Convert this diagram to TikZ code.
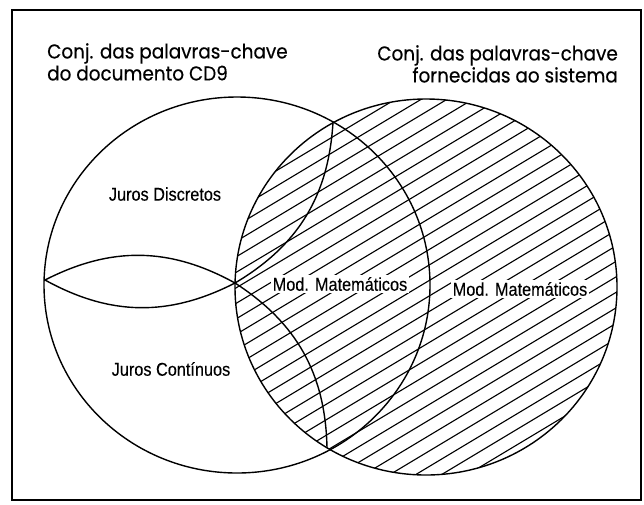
\documentclass[tikz,border=0pt]{standalone}
\usepackage{fontspec}
\setmainfont{Poppins}[FakeStretch=0.92,FakeBold=0.4]
\newfontfamily\labelfont{Liberation Sans}[FakeStretch=0.88,FakeBold=0.3]
\usepackage{tikz}

\begin{document}
\begin{tikzpicture}[x=1pt,y=-1pt,
		hatch/.style={line width=1.1pt},
		setline/.style={line width=1.4pt},
		title/.style={inner sep=0pt,font=\fontsize{20}{22}\selectfont},
		region/.style={inner sep=2pt,font=\labelfont\fontsize{18.5}{20}\selectfont}]
				\useasboundingbox (0,0) rectangle (644,504);
				\draw[line width=1.8pt] (12,10) rectangle (641,500);
				\coordinate (lensL) at (45,280);
				\coordinate (lensR) at (235,283);
				\coordinate (cutT) at (333,122);
				\coordinate (cutB) at (327,448);
				\begin{scope}
					\clip (426,287) ellipse [x radius=191, y radius=188];
					\foreach \k in {-8,...,24}
						\draw[hatch] (200,{294+15.5*\k}) -- +(450,-270);
				\end{scope}
				\draw[setline] (237,285) ellipse [x radius=193, y radius=188];
				\draw[setline] (426,287) ellipse [x radius=191, y radius=188];
				\draw[setline] (lensL) to[bend left=28] (lensR);
				\draw[setline] (lensL) to[bend right=28] (lensR);
				\draw[setline] (lensR) to[bend right=28] (cutT);
				\draw[setline] (lensR) to[bend left=28] (cutB);
				\node[title,anchor=north west,align=left] (docset) at (47,43) {Conj. das palavras-chave\\do documento CD9};
				\node[title,anchor=north east,align=right] (sysset) at (618,45) {Conj. das palavras-chave\\fornecidas ao sistema};
				\node[region] (discretos) at (165,194) {Juros Discretos};
				\node[region] (continuos) at (171,369) {Juros Contínuos};
				\node[region,fill=white] (modcomum) at (340,284) {Mod. Matemáticos};
				\node[region,fill=white] (modsist) at (520,289) {Mod. Matemáticos};
			\end{tikzpicture}
\end{document}
